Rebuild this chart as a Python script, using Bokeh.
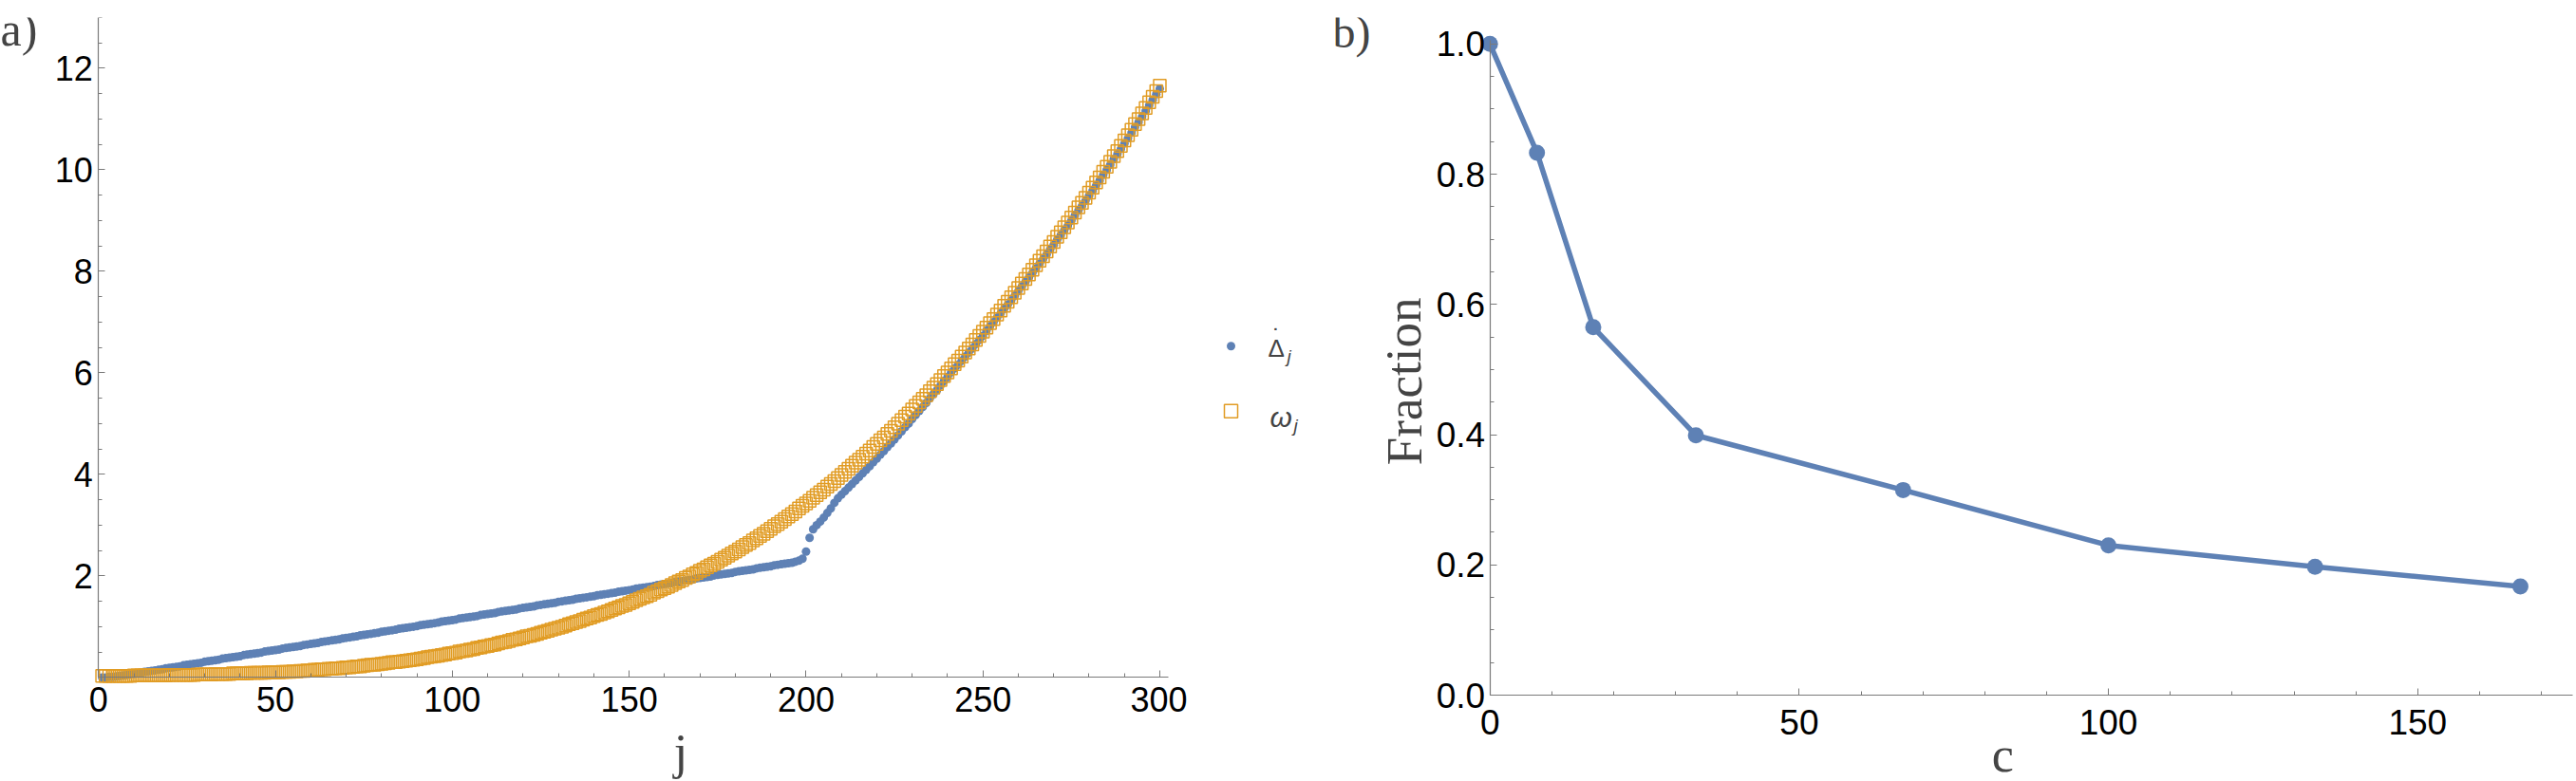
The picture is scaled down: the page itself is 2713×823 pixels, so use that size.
from bokeh.plotting import figure
from bokeh.models import Range1d, FixedTicker, Label, NumeralTickFormatter
from bokeh.layouts import row
from bokeh.embed import file_html
from bokeh.resources import INLINE

# ---------------- data: panel a) ----------------
j_index = list(range(1, 301))

delta_dot = [
    0.00, 0.00, 0.01, 0.01, 0.02, 0.03, 0.04, 0.05, 0.06, 0.07,
    0.08, 0.09, 0.11, 0.12, 0.13, 0.14, 0.15, 0.16, 0.18, 0.19,
    0.20, 0.21, 0.22, 0.24, 0.25, 0.26, 0.27, 0.28, 0.29, 0.31,
    0.32, 0.33, 0.34, 0.35, 0.37, 0.38, 0.39, 0.40, 0.41, 0.42,
    0.44, 0.45, 0.46, 0.47, 0.48, 0.49, 0.51, 0.52, 0.53, 0.54,
    0.55, 0.57, 0.58, 0.59, 0.60, 0.61, 0.62, 0.64, 0.65, 0.66,
    0.67, 0.68, 0.70, 0.71, 0.72, 0.73, 0.74, 0.75, 0.77, 0.78,
    0.79, 0.80, 0.81, 0.83, 0.84, 0.85, 0.86, 0.87, 0.88, 0.90,
    0.91, 0.92, 0.93, 0.94, 0.96, 0.97, 0.98, 0.99, 1.00, 1.01,
    1.03, 1.04, 1.05, 1.06, 1.07, 1.08, 1.10, 1.11, 1.12, 1.13,
    1.14, 1.16, 1.17, 1.18, 1.19, 1.20, 1.21, 1.23, 1.24, 1.25,
    1.26, 1.27, 1.29, 1.30, 1.31, 1.32, 1.33, 1.34, 1.36, 1.37,
    1.38, 1.39, 1.40, 1.42, 1.43, 1.44, 1.45, 1.46, 1.47, 1.49,
    1.50, 1.51, 1.52, 1.53, 1.55, 1.56, 1.57, 1.58, 1.59, 1.60,
    1.62, 1.63, 1.64, 1.65, 1.66, 1.67, 1.69, 1.70, 1.71, 1.72,
    1.73, 1.75, 1.76, 1.77, 1.78, 1.79, 1.80, 1.82, 1.83, 1.84,
    1.85, 1.86, 1.88, 1.89, 1.90, 1.91, 1.92, 1.93, 1.95, 1.96,
    1.97, 1.98, 1.99, 2.01, 2.02, 2.03, 2.04, 2.05, 2.06, 2.08,
    2.09, 2.10, 2.11, 2.12, 2.13, 2.15, 2.16, 2.17, 2.18, 2.19,
    2.21, 2.22, 2.23, 2.24, 2.25, 2.26, 2.28, 2.30, 2.34, 2.48,
    2.75, 2.92, 3.00, 3.07, 3.15, 3.24, 3.33, 3.44, 3.53, 3.60,
    3.67, 3.74, 3.81, 3.88, 3.95, 4.02, 4.09, 4.16, 4.24, 4.31,
    4.39, 4.46, 4.54, 4.61, 4.69, 4.77, 4.85, 4.93, 5.00, 5.09,
    5.17, 5.25, 5.33, 5.41, 5.50, 5.58, 5.66, 5.75, 5.84, 5.92,
    6.01, 6.09, 6.16, 6.24, 6.32, 6.40, 6.48, 6.57, 6.65, 6.73,
    6.83, 6.92, 7.00, 7.09, 7.17, 7.26, 7.34, 7.43, 7.52, 7.61,
    7.70, 7.79, 7.88, 7.97, 8.06, 8.15, 8.24, 8.33, 8.43, 8.52,
    8.62, 8.71, 8.81, 8.90, 9.00, 9.10, 9.20, 9.29, 9.39, 9.49,
    9.59, 9.69, 9.79, 9.90, 10.00, 10.10, 10.21, 10.31, 10.41, 10.52,
    10.62, 10.73, 10.84, 10.94, 11.05, 11.16, 11.27, 11.38, 11.49, 11.60,
]

omega = [
    0.03, 0.03, 0.03, 0.03, 0.03, 0.03, 0.03, 0.03, 0.03, 0.04,
    0.04, 0.04, 0.04, 0.04, 0.04, 0.04, 0.04, 0.04, 0.04, 0.05,
    0.05, 0.05, 0.05, 0.05, 0.05, 0.05, 0.05, 0.06, 0.06, 0.06,
    0.06, 0.06, 0.07, 0.07, 0.07, 0.07, 0.07, 0.08, 0.08, 0.08,
    0.08, 0.08, 0.09, 0.09, 0.09, 0.09, 0.09, 0.10, 0.10, 0.10,
    0.10, 0.11, 0.11, 0.11, 0.12, 0.12, 0.13, 0.13, 0.14, 0.14,
    0.15, 0.15, 0.16, 0.16, 0.17, 0.17, 0.18, 0.18, 0.19, 0.20,
    0.20, 0.21, 0.22, 0.22, 0.23, 0.24, 0.25, 0.25, 0.26, 0.27,
    0.28, 0.29, 0.30, 0.30, 0.31, 0.32, 0.33, 0.34, 0.35, 0.36,
    0.37, 0.38, 0.40, 0.41, 0.42, 0.43, 0.44, 0.45, 0.47, 0.48,
    0.49, 0.51, 0.52, 0.53, 0.55, 0.56, 0.58, 0.59, 0.61, 0.62,
    0.64, 0.65, 0.67, 0.69, 0.70, 0.72, 0.74, 0.75, 0.77, 0.79,
    0.81, 0.82, 0.84, 0.86, 0.88, 0.90, 0.92, 0.94, 0.96, 0.98,
    1.00, 1.02, 1.05, 1.07, 1.09, 1.11, 1.14, 1.16, 1.18, 1.21,
    1.23, 1.25, 1.28, 1.30, 1.33, 1.36, 1.38, 1.41, 1.43, 1.46,
    1.49, 1.52, 1.55, 1.58, 1.60, 1.63, 1.67, 1.70, 1.73, 1.76,
    1.79, 1.82, 1.86, 1.89, 1.92, 1.96, 1.99, 2.03, 2.06, 2.10,
    2.13, 2.17, 2.21, 2.24, 2.28, 2.32, 2.36, 2.40, 2.44, 2.48,
    2.52, 2.57, 2.61, 2.65, 2.70, 2.74, 2.79, 2.83, 2.88, 2.93,
    2.98, 3.02, 3.07, 3.12, 3.17, 3.22, 3.27, 3.33, 3.38, 3.43,
    3.48, 3.54, 3.59, 3.65, 3.70, 3.76, 3.81, 3.87, 3.93, 3.99,
    4.05, 4.11, 4.17, 4.23, 4.29, 4.35, 4.41, 4.47, 4.54, 4.60,
    4.67, 4.73, 4.80, 4.86, 4.93, 5.00, 5.07, 5.14, 5.20, 5.28,
    5.35, 5.42, 5.49, 5.56, 5.64, 5.71, 5.78, 5.86, 5.94, 6.01,
    6.09, 6.17, 6.24, 6.32, 6.40, 6.48, 6.56, 6.65, 6.73, 6.81,
    6.89, 6.98, 7.06, 7.15, 7.23, 7.32, 7.40, 7.49, 7.58, 7.67,
    7.76, 7.85, 7.94, 8.03, 8.12, 8.21, 8.30, 8.39, 8.49, 8.58,
    8.68, 8.77, 8.87, 8.96, 9.06, 9.16, 9.26, 9.35, 9.45, 9.55,
    9.65, 9.75, 9.85, 9.96, 10.06, 10.16, 10.27, 10.37, 10.47, 10.58,
    10.68, 10.79, 10.90, 11.00, 11.11, 11.22, 11.33, 11.44, 11.55, 11.66,
]

a_xticks = [0, 50, 100, 150, 200, 250, 300]
a_yticks = [2, 4, 6, 8, 10, 12]

# ---------------- data: panel b) ----------------
c_values = [0, 7.6, 16.7, 33.3, 66.8, 100, 133.4, 166.6]
fraction = [1.0, 0.833, 0.565, 0.399, 0.315, 0.230, 0.197, 0.167]

b_xticks = [0, 50, 100, 150]
b_yticks = [0.0, 0.2, 0.4, 0.6, 0.8, 1.0]

# ---------------- style ----------------
BLUE = "#5E81B5"
ORANGE = "#E19C24"
AXIS = "#7a7a7a"
SANS = "Liberation Sans"
SERIF = "Liberation Serif"


def style_axes(p, size):
    p.grid.visible = False
    p.outline_line_color = None
    for ax in p.axis:
        ax.axis_line_color = AXIS
        ax.axis_line_width = 1.2
        ax.major_tick_line_color = AXIS
        ax.minor_tick_line_color = AXIS
        ax.major_tick_in = 7
        ax.major_tick_out = 0
        ax.minor_tick_in = 4
        ax.minor_tick_out = 0
        ax.major_label_text_font = SANS
        ax.major_label_text_font_size = size
        ax.major_label_text_color = "black"


def text_panel(x0, x1, y0, y1):
    # a blank strip whose data units are page pixels (y grows downward)
    f = figure(width=x1 - x0, height=y1 - y0, title=None,
               x_range=Range1d(x0, x1), y_range=Range1d(y1, y0),
               output_backend="svg", toolbar_location=None,
               min_border=0, x_axis_type=None, y_axis_type=None)
    f.grid.visible = False
    f.outline_line_color = None
    return f


# ---------------- panel a ----------------
# the frame fills the figure; both axes are pinned at 0 and bounded
p1 = figure(width=1200, height=823, title=None,
            x_range=Range1d(-14.31, 307.79), y_range=Range1d(-2.049, 13.0),
            output_backend="svg", toolbar_location=None,
            min_border_left=0, min_border_right=0,
            min_border_top=18, min_border_bottom=0)
style_axes(p1, "36px")
p1.xaxis.ticker = FixedTicker(ticks=a_xticks, minor_ticks=list(range(0, 310, 10)))
p1.yaxis.ticker = FixedTicker(ticks=a_yticks, minor_ticks=[k * 0.5 for k in range(0, 27)])
p1.xaxis.major_label_standoff = 10
p1.yaxis.major_label_standoff = 6
p1.xaxis.fixed_location = 0
p1.yaxis.fixed_location = 0
p1.xaxis.bounds = (0, 302.5)
p1.yaxis.bounds = (0, 13.0)

p1.scatter(j_index, delta_dot, marker="circle", size=9,
           fill_color=BLUE, line_color=None)
p1.scatter(j_index, omega, marker="square", size=13,
           fill_color=None, line_color=ORANGE, line_width=1.5)

p1.add_layout(Label(x=164.6, y=-1.47, text="j", text_font=SERIF,
                    text_font_size="52px", text_align="center",
                    text_baseline="alphabetic"))

# "a)" strip at far left
fa = text_panel(0, 50, 0, 823)
fa.add_layout(Label(x=0, y=13, text="a)", text_font=SERIF,
                    text_font_size="50px", text_align="left",
                    text_baseline="alphabetic"))

# ---------------- legend + "b)" + "Fraction" strip ----------------
fl = text_panel(1250, 1510, 0, 823)
fl.scatter([1296], [354], marker="circle", size=9, fill_color=BLUE, line_color=None)
fl.scatter([1296], [424], marker="square", size=14, fill_color=None,
           line_color=ORANGE, line_width=1.5)
fl.add_layout(Label(x=1335, y=356, text="\u0394", text_font=SANS,
                    text_font_size="26px", text_baseline="alphabetic"))
fl.add_layout(Label(x=1344, y=345, text="\u02d9", text_font=SANS,
                    text_font_size="26px", text_align="center",
                    text_baseline="alphabetic"))
fl.add_layout(Label(x=1355, y=365, text="j", text_font=SANS,
                    text_font_style="italic", text_font_size="19px",
                    text_baseline="alphabetic"))
fl.add_layout(Label(x=1337, y=430, text="\u03c9", text_font=SANS,
                    text_font_style="italic", text_font_size="30px",
                    text_baseline="alphabetic"))
fl.add_layout(Label(x=1362, y=440, text="j", text_font=SANS,
                    text_font_style="italic", text_font_size="19px",
                    text_baseline="alphabetic"))
fl.add_layout(Label(x=1403, y=15, text="b)", text_font=SERIF,
                    text_font_size="48px", text_align="left",
                    text_baseline="alphabetic"))
fl.add_layout(Label(x=1478, y=392, text="Fraction", text_font=SERIF,
                    text_font_size="53px", text_align="center",
                    text_baseline="alphabetic", angle=1.5708))

# ---------------- panel b ----------------
# frame reaches the top edge so the "1.0" tick label is not clipped
p2 = figure(width=1203, height=823, title=None,
            x_range=Range1d(-9.011, 175.67), y_range=Range1d(-0.1326, 1.0406),
            output_backend="svg", toolbar_location=None,
            min_border_left=0, min_border_right=0,
            min_border_top=0, min_border_bottom=0)
style_axes(p2, "37px")
p2.xaxis.ticker = FixedTicker(ticks=b_xticks, minor_ticks=list(range(0, 180, 10)))
p2.yaxis.ticker = FixedTicker(ticks=b_yticks, minor_ticks=[k * 0.05 for k in range(0, 21)])
p2.yaxis.formatter = NumeralTickFormatter(format="0.0")
p2.xaxis.major_label_standoff = 15
p2.yaxis.major_label_standoff = 5
p2.xaxis.fixed_location = 0
p2.yaxis.fixed_location = 0
p2.xaxis.bounds = (0, 175)
p2.yaxis.bounds = (0, 1.005)

p2.line(c_values, fraction, line_color=BLUE, line_width=5.5)
p2.scatter(c_values, fraction, marker="circle", size=17,
           fill_color=BLUE, line_color=None)

p2.add_layout(Label(x=82.9, y=-0.0912, text="c", text_font=SERIF,
                    text_font_size="52px", text_align="center",
                    text_baseline="alphabetic"))

layout = row(fa, p1, fl, p2)
open("out.html", "w").write(file_html(layout, INLINE))
